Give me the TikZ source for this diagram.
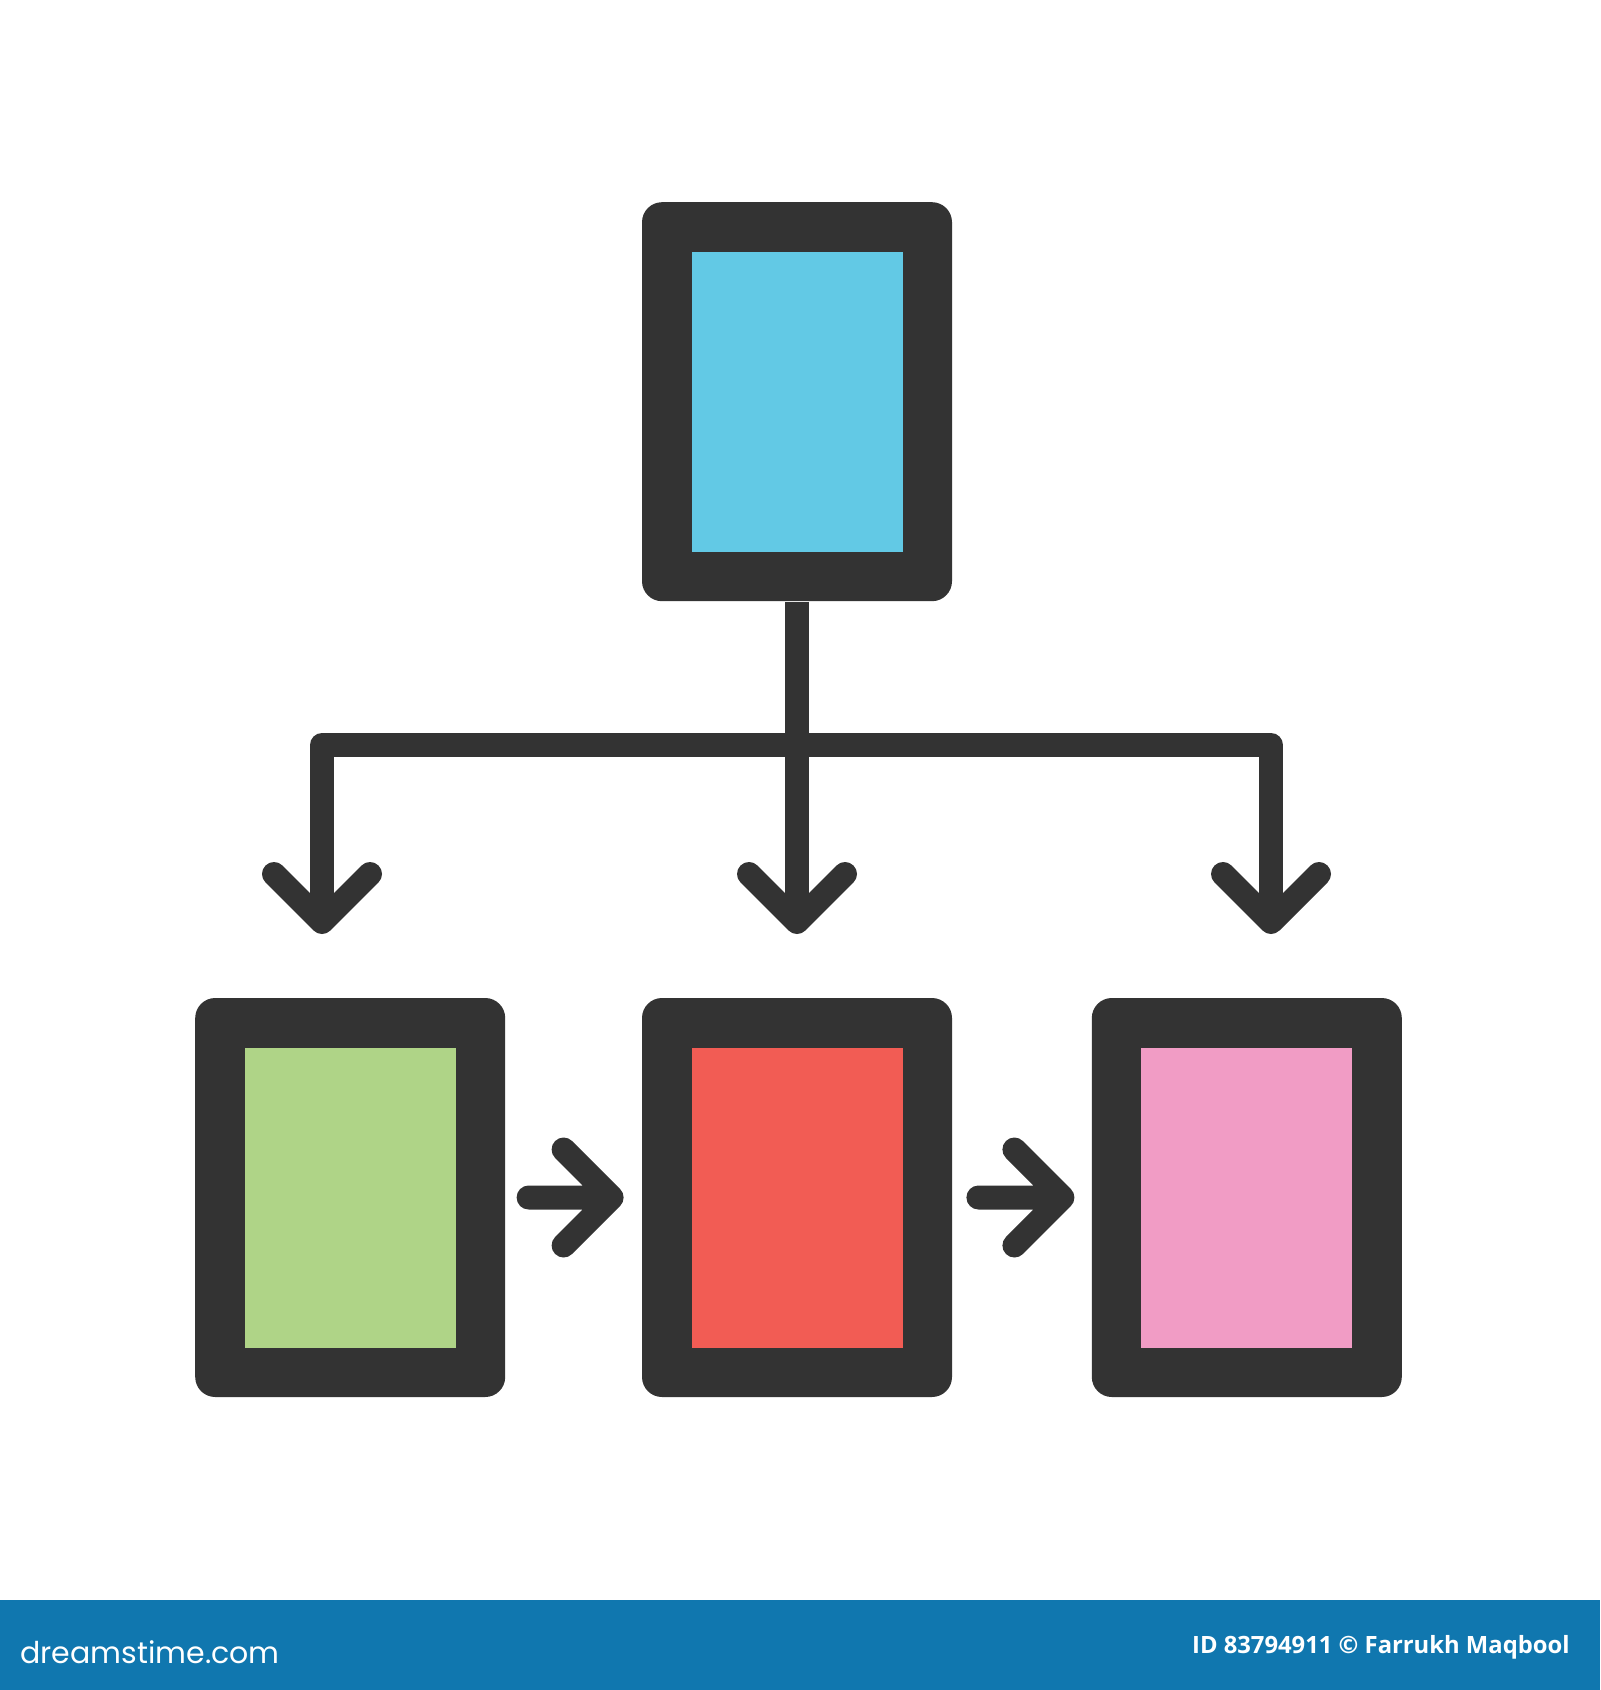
\documentclass[tikz,border=0pt]{standalone}
\usepackage{fontspec}
\newfontfamily\creditfont{Open Sans}
\newfontfamily\logofont{Poppins}
\usetikzlibrary{positioning}

\definecolor{frameGray}{HTML}{333333}
\definecolor{skyBlue}{HTML}{62C9E5}
\definecolor{leafGreen}{HTML}{AFD487}
\definecolor{coralRed}{HTML}{F25C54}
\definecolor{candyPink}{HTML}{F19CC5}
\definecolor{bannerBlue}{HTML}{1077AF}

\begin{document}
\begin{tikzpicture}[x=0.5pt,y=-0.5pt,
  frame/.style={fill=frameGray,rounded corners=10pt,inner sep=0pt,
    minimum width=155pt,minimum height=199.5pt},
  screen/.style={inner sep=0pt,minimum width=105.5pt,minimum height=150pt},
  link/.style={draw=frameGray,line width=12pt,line join=round},
  tip/.style={draw=frameGray,line width=12pt,line cap=round,line join=round}]

\fill[white] (0,0) rectangle (1600,1690);

% boxes
\node[frame] (mid) at (797,1197.5) {};
\node[frame,left=68pt of mid] (left) {};
\node[frame,right=69.5pt of mid] (right) {};
\node[frame,above=198pt of mid] (top) {};

\node[screen,fill=skyBlue] at (top) {};
\node[screen,fill=leafGreen] at (left) {};
\node[screen,fill=coralRed] at (mid) {};
\node[screen,fill=candyPink] at (right) {};

% fork from the top box
\coordinate (fork) at (top.south |- 0,745);
\coordinate (tipL) at (322,922);
\coordinate (tipM) at (top.south |- 0,922);
\coordinate (tipR) at (1271,922);

\draw[link] (top.south) -- (tipM);
\draw[link] (tipL) |- (fork) -| (tipR);
\draw[tip] (tipL) ++(-48,-48) -- (tipL) -- ++(48,-48);
\draw[tip] (tipM) ++(-48,-48) -- (tipM) -- ++(48,-48);
\draw[tip] (tipR) ++(-48,-48) -- (tipR) -- ++(48,-48);

% arrows along the bottom row
\draw[tip] (left.east) ++(23,0) -- ++(83,0) coordinate (headA)
  ++(-48,-48) -- (headA) -- ++(-48,48);
\draw[tip] (mid.east) ++(26,0) -- ++(84,0) coordinate (headB)
  ++(-48,-48) -- (headB) -- ++(-48,48);

% banner
\fill[bannerBlue] (0,1600) rectangle (1600,1690);
\node[anchor=base west,inner sep=0pt,text=white,
  font=\logofont\fontsize{15}{18}\selectfont] (logo) at (20,1663) {dreamstime.com};
\node[anchor=base east,inner sep=0pt,text=white,
  font=\creditfont\bfseries\fontsize{11.9}{14}\selectfont] (credit) at (1570,1653)
  {ID 83794911 © Farrukh Maqbool};
\end{tikzpicture}
\end{document}
